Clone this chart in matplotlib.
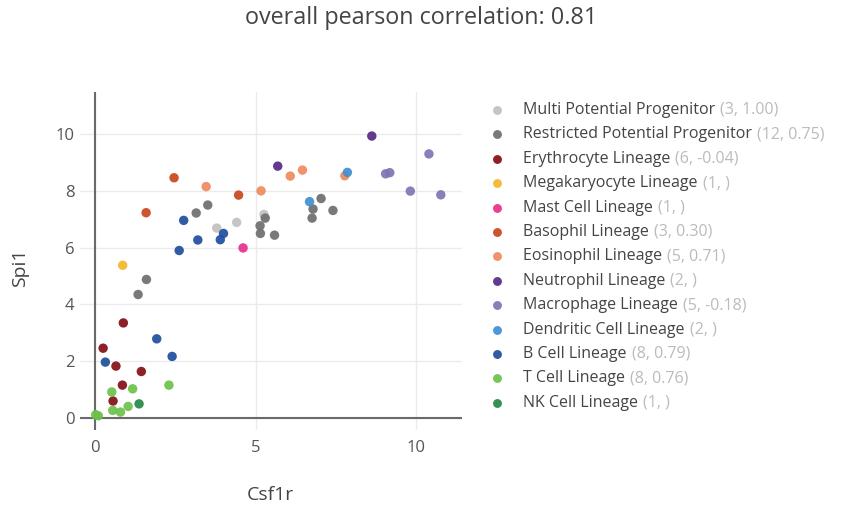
import matplotlib
matplotlib.use("Agg")
import matplotlib.pyplot as plt
from matplotlib.lines import Line2D

plt.rcParams['font.family'] = ['Open Sans', 'DejaVu Sans']

title = "overall pearson correlation: 0.81"
x_label = "Csf1r"
y_label = "Spi1"

lineages = ["Multi Potential Progenitor", "Restricted Potential Progenitor",
            "Erythrocyte Lineage", "Megakaryocyte Lineage", "Mast Cell Lineage",
            "Basophil Lineage", "Eosinophil Lineage", "Neutrophil Lineage",
            "Macrophage Lineage", "Dendritic Cell Lineage", "B Cell Lineage",
            "T Cell Lineage", "NK Cell Lineage"]
stats = ["(3, 1.00)", "(12, 0.75)", "(6, -0.04)", "(1, )", "(1, )", "(3, 0.30)",
         "(5, 0.71)", "(2, )", "(5, -0.18)", "(2, )", "(8, 0.79)", "(8, 0.76)", "(1, )"]
colors = ["#c0c2bf", "#6e6e6e", "#850e14", "#f2b72c", "#e8308a", "#c8461e",
          "#f08a5d", "#552a84", "#8174b5", "#3f8fd2", "#1f4e9e", "#6cc04a", "#268748"]

multi_x = [3.79, 4.41, 5.26]
multi_y = [6.69, 6.89, 7.17]
restricted_x = [1.34, 1.60, 3.15, 3.51, 5.14, 5.15, 5.30, 5.59, 6.76, 6.79, 7.04, 7.41]
restricted_y = [4.35, 4.88, 7.22, 7.50, 6.77, 6.50, 7.04, 6.44, 7.04, 7.36, 7.73, 7.31]
erythro_x = [0.25, 0.56, 0.65, 0.85, 0.88, 1.44]
erythro_y = [2.46, 0.60, 1.83, 1.16, 3.35, 1.64]
mega_x = [0.86]
mega_y = [5.38]
mast_x = [4.61]
mast_y = [5.99]
baso_x = [1.59, 2.46, 4.47]
baso_y = [7.23, 8.46, 7.85]
eos_x = [3.46, 5.17, 6.08, 6.46, 7.78]
eos_y = [8.15, 8.00, 8.52, 8.73, 8.53]
neut_x = [5.69, 8.62]
neut_y = [8.87, 9.93]
macro_x = [9.05, 9.18, 9.82, 10.40, 10.77]
macro_y = [8.60, 8.64, 7.99, 9.30, 7.86]
dend_x = [6.68, 7.86]
dend_y = [7.62, 8.65]
bcell_x = [0.32, 1.92, 2.40, 2.62, 2.76, 3.20, 3.90, 4.00]
bcell_y = [1.97, 2.79, 2.17, 5.90, 6.96, 6.27, 6.28, 6.50]
tcell_x = [0.02, 0.10, 0.52, 0.55, 0.79, 1.03, 1.17, 2.30]
tcell_y = [0.12, 0.08, 0.92, 0.27, 0.21, 0.41, 1.03, 1.16]
nk_x = [1.37]
nk_y = [0.50]

series = [(multi_x, multi_y), (restricted_x, restricted_y), (erythro_x, erythro_y),
          (mega_x, mega_y), (mast_x, mast_y), (baso_x, baso_y), (eos_x, eos_y),
          (neut_x, neut_y), (macro_x, macro_y), (dend_x, dend_y),
          (bcell_x, bcell_y), (tcell_x, tcell_y), (nk_x, nk_y)]

x_ticks = [0, 5, 10]
y_ticks = [0, 2, 4, 6, 8, 10]

W, H = 846, 509
fig = plt.figure(figsize=(W / 100, H / 100), dpi=100)
ax = fig.add_axes([80 / W, 1 - 430 / H, (462 - 80) / W, (430 - 92) / H])

for (xs, ys), c in zip(series, colors):
    ax.scatter(xs, ys, s=46, color=c, alpha=0.92, edgecolors='none', zorder=3)

ax.set_xlim(-0.47, 11.43)
ax.set_ylim(-0.42, 11.48)
ax.set_xticks(x_ticks)
ax.set_yticks(y_ticks)
ax.grid(True, color='#ebebeb', linewidth=1, zorder=0)
ax.axhline(0, color='#6a6a6a', linewidth=1.5, zorder=2)
ax.axvline(0, color='#6a6a6a', linewidth=1.5, zorder=2)
for s in ax.spines.values():
    s.set_visible(False)
ax.tick_params(length=0, labelsize=12, labelcolor='#555555')
ax.tick_params(axis='x', pad=7)
ax.tick_params(axis='y', pad=4)

fig.text(270 / W, 1 - 495 / H, x_label, ha='center', va='center', fontsize=14, color='#444444')
fig.text(20 / W, 1 - 268 / H, y_label, ha='center', va='center', rotation=90, fontsize=14, color='#444444')
fig.text(421 / W, 1 - 18 / H, title, ha='center', va='center', fontsize=16.8, color='#444444')

# legend
fig.canvas.draw()
renderer = fig.canvas.get_renderer()
row0, step = 110, 24.4
for i, (name, st, c) in enumerate(zip(lineages, stats, colors)):
    yp = 1 - (row0 + i * step) / H
    fig.add_artist(Line2D([497 / W], [yp], marker='o', markersize=6.4, color=c,
                          alpha=0.92, markeredgewidth=0, transform=fig.transFigure))
    t = fig.text(523 / W, yp, name, ha='left', va='center', fontsize=11.5, color='#444444')
    bb = t.get_window_extent(renderer=renderer)
    fig.text((bb.x1 + 5) / W, yp, st, ha='left', va='center', fontsize=11.5, color='#bbbbbb')

fig.savefig("out.png", dpi=100)
